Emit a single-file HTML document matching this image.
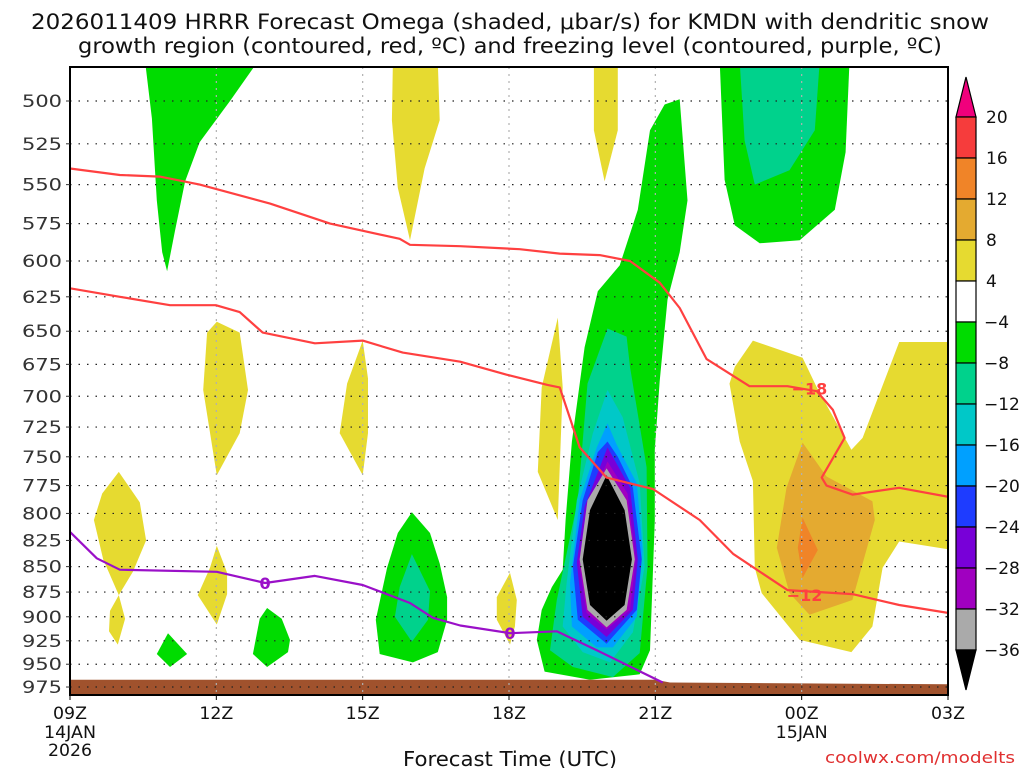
<!DOCTYPE html>
<html><head><meta charset="utf-8"><style>
body{margin:0;background:#fff;width:1024px;height:768px;overflow:hidden}
svg{display:block;font-family:"DejaVu Sans","Liberation Sans",sans-serif}
</style></head><body>
<svg id="c" width="1024" height="768" xmlns="http://www.w3.org/2000/svg"></svg>
<script>
const NS="http://www.w3.org/2000/svg";
const pLevels=[500,525,550,575,600,625,650,675,700,725,750,775,800,825,850,875,900,925,950,975];
const xTicks=[0,3,6,9,12,15,18];
const xTickLabels=["09Z","12Z","15Z","18Z","21Z","00Z","03Z"];
const cbLevels=[20,16,12,8,4,-4,-8,-12,-16,-20,-24,-28,-32,-36];
const cbColors=["#f63c3c","#f08428","#e4aa30","#e6da30","#ffffff","#00dc00","#00d28c","#00c8c8","#00a0ff","#1e3cff","#7800d8","#a000c0","#aaaaaa"];
const shapeColors=["#00dc00","#e6da30","#e6da30","#00dc00","#00d28c","#e6da30","#e6da30","#e6da30","#e6da30","#00dc00","#00dc00","#00dc00","#00d28c","#e6da30","#e6da30","#e6da30","#e4aa30","#f08428","#00dc00","#00d28c","#00c8c8","#00a0ff","#1e3cff","#7800d8","#a000c0","#aaaaaa","#000000"];
const shapeNames=["green-plume-11z","yellow-top-15z","yellow-top-20z","green-top-00z","teal-top-00z","yellow-12z-upper","yellow-15z","yellow-10z","yellow-12z-lower","green-11z","green-13z","green-16z","teal-16z","yellow-18z","yellow-19z","yellow-right","amber-right","orange-right","green-main","teal-main","cyan-main","lightblue-main","blue-main","purple-main","magenta-main","gray-main","black-core"];
const shapes=[
[[1.54,478],[1.68,510],[1.78,560],[1.89,594],[1.99,607],[2.15,580],[2.36,548],[2.66,524],[3.28,500],[3.85,478]],
[[6.62,478],[6.60,511],[6.72,552],[6.97,586],[7.27,540],[7.58,511],[7.54,478]],
[[10.74,478],[10.74,517],[10.96,548],[11.23,517],[11.23,478]],
[[13.32,478],[13.42,547],[13.63,576],[14.14,588],[14.96,586],[15.68,566],[15.90,530],[15.98,478]],
[[13.73,478],[13.83,523],[14.04,550],[14.75,541],[15.27,517],[15.37,478]],
[[3.01,643],[3.48,651],[3.65,695],[3.48,730],[3.01,766],[2.73,695],[2.81,651]],
[[6.0,657],[6.11,686],[6.11,730],[6.0,766],[5.53,730],[5.68,690]],
[[1.0,763],[1.43,790],[1.56,825],[1.29,855],[1.0,878],[1.13,902],[0.98,929],[0.8,915],[0.82,894],[1.0,878],[0.68,843],[0.49,806],[0.66,782]],
[[3.01,830],[3.22,856],[3.22,877],[3.01,908],[2.62,878],[2.87,851]],
[[2.01,917],[2.4,939],[2.05,953],[1.78,939]],
[[4.04,891],[4.34,902],[4.51,924],[4.47,937],[4.04,953],[3.75,939],[3.89,902]],
[[7.01,799],[7.38,818],[7.58,847],[7.73,880],[7.73,903],[7.54,937],[7.03,948],[6.35,939],[6.27,903],[6.5,851],[6.72,818]],
[[7.01,838],[7.38,874],[7.34,903],[7.01,926],[6.66,900],[6.76,870]],
[[9.02,856],[9.16,883],[9.12,910],[9.02,929],[8.75,903],[8.75,880]],
[[10.0,640],[10.1,693],[10.0,806],[9.59,763],[9.67,693]],
[[14.0,657],[15.02,670],[15.31,693],[16.02,744],[16.25,734],[17.0,658],[18.1,658],[18.1,834],[17.0,826],[16.66,851],[16.45,910],[16.02,937],[14.96,924],[14.18,876],[14.04,851],[14.0,771],[13.73,737],[13.52,690],[13.63,677]],
[[15.02,738],[15.51,767],[16.45,789],[16.5,806],[16.04,883],[15.16,898],[14.75,876],[14.49,832],[14.69,777]],
[[15.02,804],[15.33,834],[15.02,861],[14.92,832]],
[[12.5,499],[12.66,560],[12.5,594],[12.25,627],[12.09,688],[11.99,744],[11.99,806],[11.93,883],[11.89,935],[11.68,961],[10.66,967],[9.73,958],[9.57,924],[9.67,893],[9.88,870],[10.1,853],[10.16,806],[10.29,737],[10.55,662],[10.82,621],[11.27,603],[11.64,566],[11.89,517],[12.19,502]],
[[11.02,648],[10.61,690],[10.41,788],[9.98,883],[9.84,935],[10.31,953],[11.13,964],[11.68,938],[11.84,850],[11.82,759],[11.48,677],[11.41,654]],
[[11.02,695],[10.72,730],[10.39,788],[10.18,866],[10.1,910],[10.51,937],[11.07,948],[11.54,916],[11.78,850],[11.68,773],[11.33,717]],
[[11.02,722],[10.8,742],[10.45,788],[10.25,866],[10.29,910],[10.8,932],[11.13,932],[11.62,900],[11.74,834],[11.62,773],[11.21,740]],
[[11.02,737],[10.82,746],[10.51,788],[10.31,850],[10.41,903],[11.0,928],[11.62,893],[11.72,843],[11.54,777],[11.23,750]],
[[11.02,742],[10.55,794],[10.39,846],[10.51,900],[11.0,921],[11.54,893],[11.64,843],[11.48,777]],
[[11.02,754],[10.59,797],[10.43,846],[10.59,896],[11.0,913],[11.48,893],[11.6,843],[11.43,782]],
[[11.0,760],[10.61,788],[10.45,843],[10.61,893],[11.0,911],[11.41,893],[11.58,843],[11.41,788]],
[[11.0,766],[10.66,797],[10.51,843],[10.66,888],[11.0,904],[11.37,888],[11.52,843],[11.37,797]]
];
const dgzLower=[[0,619],[1.02,625],[2.05,631],[2.99,631],[3.48,636],[3.95,651],[5.02,659],[6.0,657],[6.82,666],[8.0,673],[8.95,683],[9.79,691],[10.04,693],[10.45,742],[11.0,768],[11.95,778],[12.91,806],[13.6,838],[14.71,873],[16.04,877],[17.0,888],[18,896]];
const dgzUpper=[[0,540],[1.02,544],[1.84,545],[2.66,550],[4.1,562],[5.33,575],[6.76,585],[6.97,589],[8.0,590],[9.22,592],[10.04,595],[10.86,596],[11.48,600],[12.09,615],[12.5,633],[13.05,671],[13.93,692],[14.71,692],[15.31,696],[15.64,711],[15.88,734],[15.41,768],[15.51,775],[16.04,783],[17.0,777],[18,785]];
const freezing=[[0,817],[0.55,842],[1.02,853],[3.01,855],[4.0,866],[5.02,859],[6.0,868],[6.97,886],[7.44,901],[8.0,909],[9.02,917],[9.98,915],[10.8,935],[12.15,970]];
const sfcHours=[0,12,12.3,15,18];
const sfcPres=[967,967,970,971,972];

const L=70,R=948,T=67,B=695;
const X=h=>L+(R-L)*h/18;
const Y=p=>101+877.5*Math.log(p/500);
const svg=document.getElementById('c');
function el(tag,attrs,parent){const e=document.createElementNS(NS,tag);for(const k in attrs)e.setAttribute(k,attrs[k]);(parent||svg).appendChild(e);return e;}
function txt(s,attrs,parent){const e=el('text',attrs,parent);e.textContent=s;return e;}
const pts=a=>a.map(d=>X(d[0]).toFixed(1)+','+Y(d[1]).toFixed(1)).join(' ');

const defs=el('defs',{});
const cp=el('clipPath',{id:'pc'},defs);el('rect',{x:L,y:T,width:R-L,height:B-T},cp);
const plot=el('g',{'clip-path':'url(#pc)'});



shapes.forEach((s,i)=>{
  const e=el('polygon',{points:pts(s),fill:shapeColors[i]},plot);
  
  
});
const g=sfcHours.map((h,i)=>[h,sfcPres[i]]);
const gp=pts(g)+' '+X(18)+','+B+' '+X(0)+','+B;
const ground=el('polygon',{points:gp,fill:'#a0522d'},plot);



pLevels.forEach(p=>{
  const gl=el('line',{x1:L,x2:R,y1:Y(p),y2:Y(p),stroke:'#222','stroke-width':1.2,'stroke-dasharray':'1.5 7'},plot);
  
  
});
xTicks.slice(1,-1).forEach(h=>{
  const gl=el('line',{x1:X(h),x2:X(h),y1:T,y2:B,stroke:'#b0b0b0','stroke-width':1.2,'stroke-dasharray':'2 5'},plot);
  
  
});

function line(d,color,name){
  const e=el('polyline',{points:pts(d),fill:'none',stroke:color,'stroke-width':2.2,'stroke-linejoin':'round'},plot);
  
  
}
line(dgzLower,'#ff4040','dgz-minus12-line');
line(dgzUpper,'#ff4040','dgz-minus18-line');
line(freezing,'#9a10c8','freezing-level-line');
function lab(s,h,p,color,name){
  const t=txt(s,{x:X(h),y:Y(p)+6,'text-anchor':'middle','font-size':16,'font-weight':'bold',fill:color},plot);
  
  
}
lab('−18',15.16,694,'#ff4040','label-minus18');
lab('−12',15.06,878,'#ff4040','label-minus12');
lab('0',4.0,866,'#9a10c8','label-zero-1');
lab('0',9.02,917,'#9a10c8','label-zero-2');

const fr=el('rect',{x:L,y:T,width:R-L,height:B-T,fill:'none',stroke:'#000','stroke-width':2});



pLevels.forEach(p=>{
  el('line',{x1:L-4,x2:L,y1:Y(p),y2:Y(p),stroke:'#333','stroke-width':1});
  const t=txt(String(p),{x:L-8,y:Y(p)+6,'text-anchor':'end','font-size':17,fill:'#333',textLength:40,lengthAdjust:'spacingAndGlyphs'});
  
  
});
xTicks.forEach((h,i)=>{
  el('line',{x1:X(h),x2:X(h),y1:B,y2:B+5,stroke:'#000','stroke-width':1});
  const t=txt(xTickLabels[i],{x:X(h),y:719,'text-anchor':'middle','font-size':17,fill:'#111',textLength:34,lengthAdjust:'spacingAndGlyphs'});
  
  
});
let t;
t=txt('14JAN',{x:X(0),y:738,'text-anchor':'middle','font-size':17,fill:'#111',textLength:52,lengthAdjust:'spacingAndGlyphs'});

t=txt('2026',{x:X(0),y:756,'text-anchor':'middle','font-size':17,fill:'#111',textLength:44,lengthAdjust:'spacingAndGlyphs'});

t=txt('15JAN',{x:X(15),y:738,'text-anchor':'middle','font-size':17,fill:'#111',textLength:52,lengthAdjust:'spacingAndGlyphs'});

t=txt('Forecast Time (UTC)',{x:510,y:766,'text-anchor':'middle','font-size':20,fill:'#111',textLength:214,lengthAdjust:'spacingAndGlyphs'});

t=txt('coolwx.com/modelts',{x:1015,y:763,'text-anchor':'end','font-size':16,fill:'#e03030',textLength:190,lengthAdjust:'spacingAndGlyphs'});

t=txt('2026011409 HRRR Forecast Omega (shaded, μbar/s) for KMDN with dendritic snow',{x:510,y:29,'text-anchor':'middle','font-size':21,fill:'#111',textLength:958,lengthAdjust:'spacingAndGlyphs'});

t=txt('growth region (contoured, red, ºC) and freezing level (contoured, purple, ºC)',{x:510,y:53,'text-anchor':'middle','font-size':21,fill:'#111',textLength:864,lengthAdjust:'spacingAndGlyphs'});


const cb=el('g',{});


const cx0=956,cx1=976,cy0=117,cy1=650,step=(cy1-cy0)/(cbLevels.length-1);
const CY=i=>cy0+i*step;
el('polygon',{points:`${cx0},${cy0} ${cx1},${cy0} ${(cx0+cx1)/2},77`,fill:'#f0007c',stroke:'#000','stroke-width':1.2},cb);
cbColors.forEach((c,i)=>{
  const r=el('rect',{x:cx0,y:CY(i),width:cx1-cx0,height:step,fill:c,stroke:'#000','stroke-width':1.2},cb);
  
  
});
el('polygon',{points:`${cx0},${cy1} ${cx1},${cy1} ${(cx0+cx1)/2},690`,fill:'#000',stroke:'#000','stroke-width':1.2},cb);
cbLevels.forEach((v,i)=>{
  const s=v<0?'−'+Math.abs(v):String(v);
  const tt=txt(s,{x:v<0?984:986,y:CY(i)+6,'font-size':17,fill:'#111'},cb);
  
  
});
</script>
</body></html>
